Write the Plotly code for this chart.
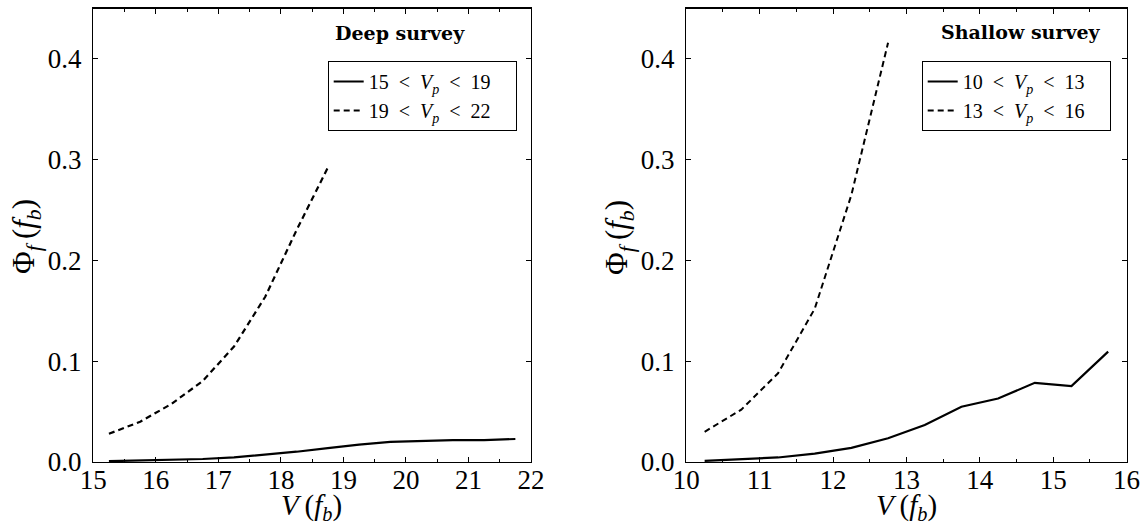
import plotly.graph_objects as go

# ---------------- data ----------------
deep_bright_x = [15.25, 15.75, 16.25, 16.75, 17.25, 17.75, 18.25, 18.75, 19.25, 19.75, 20.25, 20.75, 21.25, 21.75]
deep_bright_y = [0.0008, 0.0013, 0.0020, 0.0030, 0.0045, 0.0072, 0.0102, 0.0138, 0.0173, 0.0200, 0.0212, 0.0217, 0.0218, 0.0228]
deep_faint_x = [15.25, 15.75, 16.25, 16.75, 17.25, 17.75, 18.25, 18.75]
deep_faint_y = [0.028, 0.040, 0.0576, 0.0804, 0.1145, 0.164, 0.230, 0.292]

shallow_bright_x = [10.25, 10.75, 11.25, 11.75, 12.25, 12.75, 13.25, 13.75, 14.25, 14.75, 15.25, 15.75]
shallow_bright_y = [0.0012, 0.0025, 0.0045, 0.0083, 0.0140, 0.0235, 0.0367, 0.0548, 0.0630, 0.0786, 0.0753, 0.1095]
shallow_faint_x = [10.25, 10.75, 11.25, 11.75, 12.25, 12.75]
shallow_faint_y = [0.030, 0.052, 0.088, 0.152, 0.265, 0.416]

deep_labels = ["15\u2002&lt;\u2002<i>V</i><sub><i>p</i></sub>\u2002&lt;\u200219\u2002\u2002",
               "19\u2002&lt;\u2002<i>V</i><sub><i>p</i></sub>\u2002&lt;\u200222\u2002\u2002"]
shallow_labels = ["10\u2002&lt;\u2002<i>V</i><sub><i>p</i></sub>\u2002&lt;\u200213\u2002\u2002",
                  "13\u2002&lt;\u2002<i>V</i><sub><i>p</i></sub>\u2002&lt;\u200216\u2002\u2002"]
panel_titles = ["Deep survey", "Shallow survey"]
x_title = "<i>V</i>\u2009(<i>f</i><sub><i>b</i></sub>)"
y_title = "\u03a6<sub><i>f</i></sub>\u2009(<i>f</i><sub><i>b</i></sub>)"
deep_xticks = [15, 16, 17, 18, 19, 20, 21, 22]
shallow_xticks = [10, 11, 12, 13, 14, 15, 16]
y_ticks = [0.0, 0.1, 0.2, 0.3, 0.4]

# ---------------- figure ----------------
W, H = 1142, 525
FONT = "Liberation Serif"


def px_x(p):
    return p / W


def px_y(p):
    return (H - p) / H


fig = go.Figure()

fig.add_trace(go.Scatter(x=deep_bright_x, y=deep_bright_y, mode="lines", name=deep_labels[0],
                         line=dict(color="black", width=2.2), xaxis="x", yaxis="y", legend="legend"))
fig.add_trace(go.Scatter(x=deep_faint_x, y=deep_faint_y, mode="lines", name=deep_labels[1],
                         line=dict(color="black", width=2.2, dash="6px,4px"), xaxis="x", yaxis="y", legend="legend"))
fig.add_trace(go.Scatter(x=shallow_bright_x, y=shallow_bright_y, mode="lines", name=shallow_labels[0],
                         line=dict(color="black", width=2.2), xaxis="x2", yaxis="y2", legend="legend2"))
fig.add_trace(go.Scatter(x=shallow_faint_x, y=shallow_faint_y, mode="lines", name=shallow_labels[1],
                         line=dict(color="black", width=2.0, dash="6px,4px"), xaxis="x2", yaxis="y2", legend="legend2"))

y_dom = [px_y(462), px_y(8.5)]
left_dom = [px_x(93.3), px_x(531)]
right_dom = [px_x(686.3), px_x(1126.5)]


def xaxis(dom, rng, ticks, anchor):
    return dict(domain=dom, range=rng, tickvals=ticks, ticktext=[str(t) for t in ticks],
                showline=True, linecolor="black", linewidth=1.3, mirror="ticks",
                ticks="inside", ticklen=5, tickwidth=1, tickcolor="black",
                minor=dict(dtick=0.5, ticks="inside", ticklen=3, tickwidth=1, tickcolor="black"),
                showgrid=False, zeroline=False, anchor=anchor, automargin=False,
                ticklabelstandoff=-7,
                tickfont=dict(family=FONT, size=27, color="black"), fixedrange=True)


def yaxis(anchor):
    return dict(domain=y_dom, range=[0, 0.45], tickvals=y_ticks,
                ticktext=["%.1f" % t for t in y_ticks],
                showline=True, linecolor="black", linewidth=1.3, mirror="ticks",
                ticks="inside", ticklen=5, tickwidth=1, tickcolor="black",
                showgrid=False, zeroline=False, anchor=anchor, automargin=False,
                ticklabelstandoff=5,
                tickfont=dict(family=FONT, size=27, color="black"), fixedrange=True)


legend_common = dict(bgcolor="white", bordercolor="black", borderwidth=1,
                     font=dict(family=FONT, size=20, color="black"),
                     xanchor="right", yanchor="top", itemwidth=30, tracegroupgap=0)

fig.update_layout(
    width=W, height=H,
    margin=dict(l=0, r=0, t=0, b=0),
    paper_bgcolor="white", plot_bgcolor="white",
    font=dict(family=FONT, color="black"),
    xaxis=xaxis(left_dom, [15, 22], deep_xticks, "y"),
    yaxis=yaxis("x"),
    xaxis2=xaxis(right_dom, [10, 16], shallow_xticks, "y2"),
    yaxis2=yaxis("x2"),
    showlegend=True,
    legend=dict(x=px_x(516.7), y=px_y(61), **legend_common),
    legend2=dict(x=px_x(1110.7), y=px_y(61), **legend_common),
)

annotations = [
    dict(text="<b>%s</b>" % panel_titles[0], x=px_x(467), y=px_y(33), xanchor="right", yanchor="middle",
         font=dict(family="DejaVu Serif", size=19, color="black")),
    dict(text="<b>%s</b>" % panel_titles[1], x=px_x(1103), y=px_y(32), xanchor="right", yanchor="middle",
         font=dict(family="DejaVu Serif", size=19, color="black")),
    dict(text=x_title, x=px_x(311), y=px_y(507), xanchor="center", yanchor="middle",
         font=dict(family=FONT, size=29, color="black")),
    dict(text=x_title, x=px_x(906), y=px_y(507), xanchor="center", yanchor="middle",
         font=dict(family=FONT, size=29, color="black")),
    dict(text=y_title, x=px_x(26), y=px_y(237), xanchor="center", yanchor="middle", textangle=-90,
         font=dict(family=FONT, size=31, color="black")),
    dict(text=y_title, x=px_x(619), y=px_y(237), xanchor="center", yanchor="middle", textangle=-90,
         font=dict(family=FONT, size=31, color="black")),
]
for a in annotations:
    a.update(xref="paper", yref="paper", showarrow=False)
fig.update_layout(annotations=annotations)

fig.write_html("out.html",
               config={"displayModeBar": False, "staticPlot": True},
               post_script="document.body.style.margin='0';document.documentElement.style.overflow='hidden';")
